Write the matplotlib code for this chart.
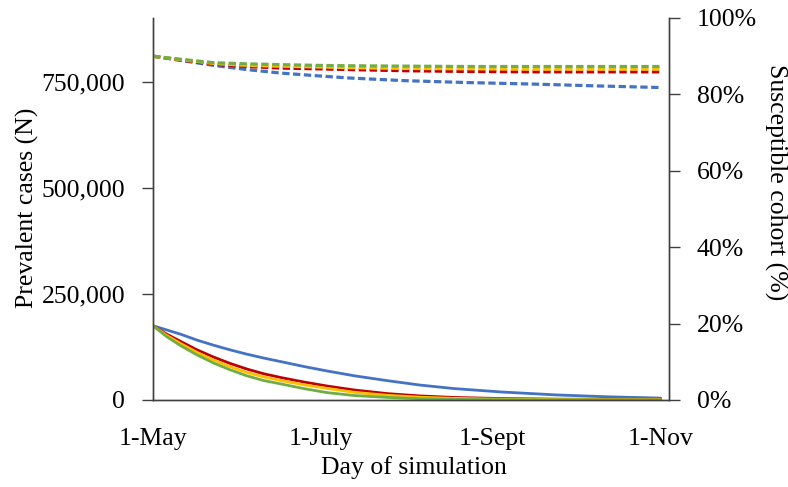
import numpy as np
import matplotlib
matplotlib.use("Agg")
import matplotlib.pyplot as plt
from matplotlib.ticker import FuncFormatter, PercentFormatter

plt.rcParams['font.family'] = ['Liberation Serif', 'DejaVu Serif']

# --- dane ---
# krzywe ciągłe: liczba przypadków (lewa oś)
days_cases = [0, 5, 10, 16, 22, 28, 34, 40, 47, 55, 63, 73, 85, 97, 109, 126, 146, 165, 184]
cases_blue = [175000, 165000, 155000, 141000, 129000, 118000, 108000, 99000, 89500, 78500, 68500, 57000, 45500, 35000, 27000, 19000, 12000, 7500, 4500]
cases_red = [175000, 155000, 138000, 118000, 101000, 86000, 73000, 62000, 52000, 42000, 33000, 23500, 15000, 9500, 6000, 3500, 2000, 1500, 1200]
cases_orange = [175000, 152000, 133000, 112000, 94000, 78500, 65000, 54500, 45000, 35500, 27500, 18000, 11000, 6500, 3800, 2000, 1200, 900, 700]
cases_green = [175000, 149000, 128000, 106000, 87000, 71000, 57000, 46000, 37000, 26500, 17500, 10500, 6000, 3000, 1500, 700, 400, 300, 200]

# krzywe przerywane: odsetek podatnej kohorty (prawa oś)
days_susc = [0, 10, 22, 34, 46, 59, 71, 91, 114, 138, 162, 184]
susc_blue = [0.900, 0.889, 0.876, 0.865, 0.856, 0.849, 0.843, 0.836, 0.831, 0.827, 0.822, 0.818]
susc_red = [0.900, 0.890, 0.879, 0.873, 0.869, 0.867, 0.865, 0.862, 0.860, 0.859, 0.859, 0.859]
susc_orange = [0.900, 0.891, 0.881, 0.876, 0.874, 0.872, 0.870, 0.868, 0.867, 0.866, 0.866, 0.866]
susc_green = [0.900, 0.892, 0.883, 0.880, 0.878, 0.876, 0.875, 0.874, 0.873, 0.873, 0.873, 0.873]

tick_days = [0, 61, 123, 184]
tick_labels = ['1-May', '1-July', '1-Sept', '1-Nov']

colors = ['#4472C4', '#C00000', '#FFC000', '#70AD47']
spine_col = '#404040'
fs = 18.5

fig = plt.figure(figsize=(7.88, 4.87), dpi=100)
ax = fig.add_axes([153/788, 1 - 400/487, 516/788, 382/487])
ax2 = ax.twinx()

for vals, c in zip([cases_blue, cases_red, cases_orange, cases_green], colors):
    ax.plot(days_cases, vals, color=c, lw=2.0, solid_capstyle='round', solid_joinstyle='round')
for vals, c in zip([susc_blue, susc_red, susc_orange, susc_green], colors):
    ax2.plot(days_susc, vals, color=c, lw=2.3, dashes=(2.3, 1.1))

ax.set_xlim(0, 187)
ax.set_ylim(0, 900000)
ax2.set_ylim(0, 1.0)

ax.set_yticks([0, 250000, 500000, 750000])
ax.yaxis.set_major_formatter(FuncFormatter(lambda v, p: f"{int(v):,}"))
ax2.set_yticks(np.arange(0, 1.01, 0.2))
ax2.yaxis.set_major_formatter(PercentFormatter(1.0, decimals=0))

ax.set_xticks(tick_days)
ax.set_xticklabels(tick_labels)
ax.tick_params(axis='x', length=0, pad=20, labelsize=fs)
ax.tick_params(axis='y', direction='out', length=8, width=1, color=spine_col, pad=12, labelsize=fs)
ax2.tick_params(axis='y', direction='out', length=8, width=1, color=spine_col, pad=12, labelsize=fs)

for a in (ax, ax2):
    a.spines['top'].set_visible(False)
    for s in ('left', 'right', 'bottom'):
        a.spines[s].set_color(spine_col)
        a.spines[s].set_linewidth(1.0)

ax.set_ylabel('Prevalent cases (N)', fontsize=fs, va='center')
ax.yaxis.set_label_coords(-0.243, 0.503)
ax2.set_ylabel('Susceptible cohort (%)', fontsize=fs, rotation=270, va='center')
ax2.yaxis.set_label_coords(1.207, 0.571)
ax.set_xlabel('Day of simulation', fontsize=fs)
ax.xaxis.set_label_coords(0.505, -0.178)
ax.xaxis.label.set_va('center')

fig.savefig('out.png', dpi=100)
